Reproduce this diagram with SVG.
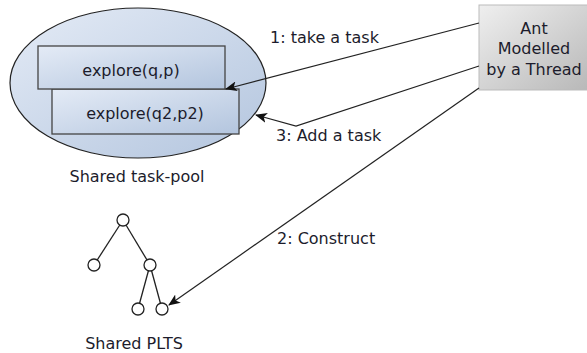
<svg xmlns="http://www.w3.org/2000/svg" width="587" height="353" viewBox="0 0 587 353">
<defs>
<linearGradient id="blueG" x1="0" y1="0" x2="1" y2="1">
<stop offset="0" stop-color="#e4ebf6"/>
<stop offset="1" stop-color="#b3c5de"/>
</linearGradient>
<linearGradient id="grayG" x1="0" y1="0" x2="1" y2="1">
<stop offset="0" stop-color="#efefef"/>
<stop offset="1" stop-color="#b8b8b8"/>
</linearGradient>
<marker id="arr" markerWidth="12" markerHeight="10" refX="11" refY="5" orient="auto" markerUnits="userSpaceOnUse">
<path d="M0,0 L12,5 L0,10 L3,5 Z" fill="#111"/>
</marker>
</defs>
<style>
text{font-family:"DejaVu Sans","Liberation Sans",sans-serif;font-size:16px;fill:#1c1c2c}
.edge{stroke:#222;stroke-width:1.2;fill:none}
.tree{stroke:#222;stroke-width:1.3;fill:#fff}
</style>
<g id="pool">
<ellipse cx="138" cy="83" rx="128" ry="75" fill="url(#blueG)" stroke="#222" stroke-width="1.2"/>
<rect x="52" y="89" width="187" height="45" fill="url(#blueG)" stroke="#444" stroke-width="1.3"/>
<rect x="38" y="46" width="187" height="43" fill="url(#blueG)" stroke="#444" stroke-width="1.3"/>
<text x="131" y="76" text-anchor="middle">explore(q,p)</text>
<text x="145" y="119" text-anchor="middle">explore(q2,p2)</text>
<text x="137" y="182" text-anchor="middle">Shared task-pool</text>
</g>
<g id="ant">
<rect x="479" y="5" width="110" height="85" fill="url(#grayG)" stroke="#bbb" stroke-width="1"/>
<text x="534" y="34" text-anchor="middle">Ant</text>
<text x="534" y="54" text-anchor="middle">Modelled</text>
<text x="534" y="75" text-anchor="middle">by a Thread</text>
</g>
<g id="plts">
<line class="tree" x1="123" y1="220" x2="94" y2="265"/>
<line class="tree" x1="123" y1="220" x2="150" y2="265"/>
<line class="tree" x1="150" y1="265" x2="138" y2="309"/>
<line class="tree" x1="150" y1="265" x2="162" y2="309"/>
<circle class="tree" cx="123" cy="220" r="6"/>
<circle class="tree" cx="94" cy="265" r="6"/>
<circle class="tree" cx="150" cy="265" r="6"/>
<circle class="tree" cx="138" cy="309" r="6"/>
<circle class="tree" cx="162" cy="309" r="6"/>
<text x="134" y="349" text-anchor="middle">Shared PLTS</text>
</g>
<g id="connectors">
<line class="edge" x1="479" y1="23" x2="226" y2="89" marker-end="url(#arr)"/>
<polyline class="edge" points="479,66 296,126 256,115" marker-end="url(#arr)"/>
<line class="edge" x1="479" y1="88" x2="169" y2="305" marker-end="url(#arr)"/>
<text x="270" y="43">1: take a task</text>
<text x="276" y="141">3: Add a task</text>
<text x="277" y="244">2: Construct</text>
</g>
</svg>
